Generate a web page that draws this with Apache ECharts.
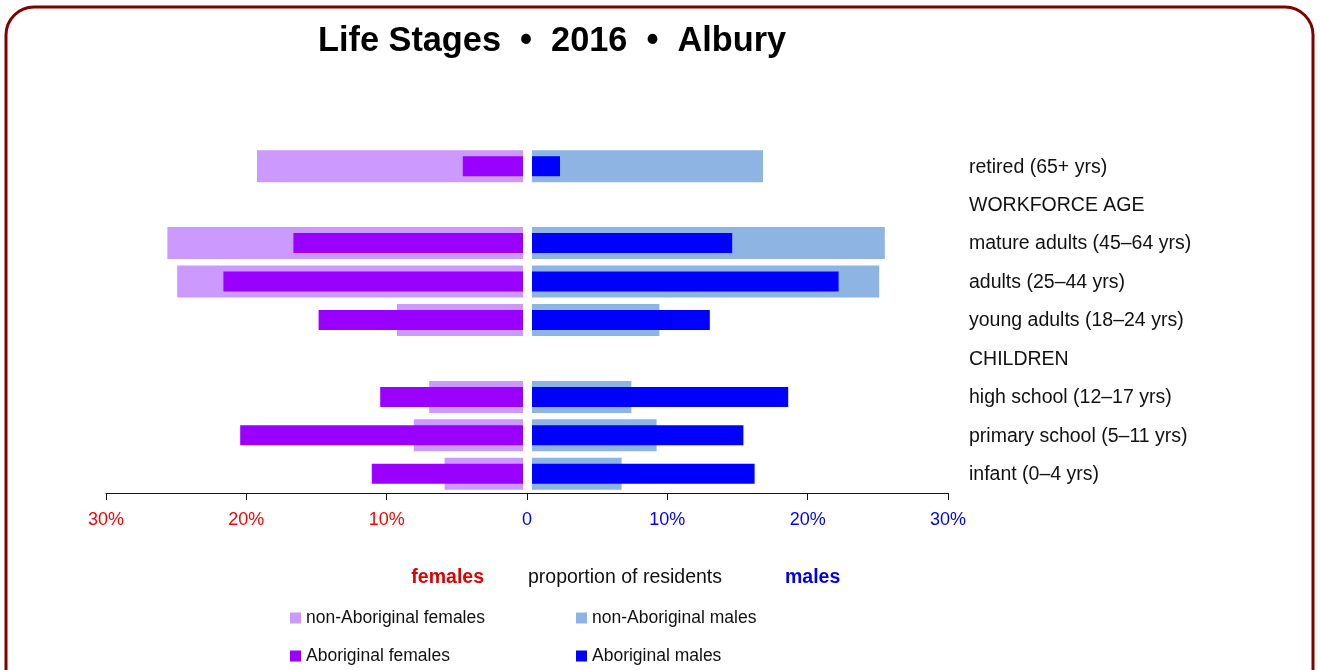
<!DOCTYPE html>
<html>
<head>
<meta charset="utf-8">
<title>Life Stages 2016 Albury</title>
<script src="https://cdn.jsdelivr.net/npm/echarts@6/dist/echarts.min.js"></script>
<style>
  html, body { margin: 0; padding: 0; background: #fff; }
  #chart { width: 1320px; height: 670px; }
</style>
</head>
<body>
<div id="chart"></div>
<script>
// top to bottom, as in the picture
var categories = ['retired (65+ yrs)', 'WORKFORCE AGE', 'mature adults (45–64 yrs)', 'adults (25–44 yrs)',
  'young adults (18–24 yrs)', 'CHILDREN', 'high school (12–17 yrs)', 'primary school (5–11 yrs)', 'infant (0–4 yrs)']
// percent of residents, header rows have no bars
var nonAbFemales = [19.0, null, 25.4, 24.7, 9.0, null, 6.7, 7.8, 5.6]
var abFemales = [4.3, null, 16.4, 21.4, 14.6, null, 10.2, 20.2, 10.8]
var nonAbMales = [16.5, null, 25.2, 24.8, 9.1, null, 7.1, 8.9, 6.4]
var abMales = [2.0, null, 14.3, 21.9, 12.7, null, 18.3, 15.1, 15.9]
var axisMax = 30
var tickStep = 10

var FONT = "'Liberation Sans', Arial, sans-serif"
var plotTop = 147
var plotHeight = 346

var myChart = echarts.init(document.getElementById('chart'), null, { renderer: 'canvas' })

function catAxis(gridIndex, show, position) {
  return {
    type: 'category',
    gridIndex: gridIndex,
    data: categories,
    inverse: true,
    position: position,
    show: show,
    axisLine: { show: false },
    axisTick: { show: false },
    axisLabel: {
      show: show,
      align: 'left',
      margin: 17,
      lineHeight: 26,
      verticalAlign: 'top',
      padding: [-12, 0, 0, 0],
      color: '#111',
      fontSize: 19.5,
      fontFamily: FONT,
    },
  }
}

var options = {
  animation: false,
  backgroundColor: '#fff',
  title: {
    text: 'Life Stages  •  2016  •  Albury',
    left: 318,
    top: 25,
    padding: 0,
    textStyle: { fontSize: 34.3, fontWeight: 'bold', color: '#000', fontFamily: FONT },
  },
  grid: [
    // axis with the tick marks
    { left: 106, top: plotTop, width: 842, height: plotHeight },
    // females, bars grow to the left
    { left: 103, top: plotTop, width: 420, height: plotHeight },
    // males
    { left: 532, top: plotTop, width: 420, height: plotHeight },
  ],
  xAxis: [
    {
      type: 'value',
      gridIndex: 0,
      min: -axisMax,
      max: axisMax,
      interval: tickStep,
      splitLine: { show: false },
      axisLine: { show: true, lineStyle: { color: '#111', width: 1 } },
      axisTick: { show: true, length: 7, lineStyle: { color: '#111' } },
      axisLabel: {
        margin: 18,
        formatter: function (v) {
          if (v < 0) return '{f|' + -v + '%}'
          if (v === 0) return '{m|0}'
          return '{m|' + v + '%}'
        },
        rich: {
          f: { color: '#FF0000', fontSize: 18, fontFamily: FONT },
          m: { color: '#0000FF', fontSize: 18, fontFamily: FONT },
        },
      },
    },
    { type: 'value', gridIndex: 1, min: 0, max: axisMax, inverse: true, show: false, splitLine: { show: false } },
    { type: 'value', gridIndex: 2, min: 0, max: axisMax, show: false, splitLine: { show: false } },
  ],
  yAxis: [
    catAxis(0, false, 'left'),
    catAxis(1, false, 'left'),
    catAxis(1, false, 'right'),
    catAxis(2, true, 'right'),
    catAxis(2, false, 'left'),
  ],
  legend: [
    { data: ['non-Aboriginal females'], left: 290, top: 609 },
    { data: ['non-Aboriginal males'], left: 576, top: 609 },
    { data: ['Aboriginal females'], left: 290, top: 647 },
    { data: ['Aboriginal males'], left: 576, top: 647 },
  ].map(function (l) {
    l.padding = 0
    l.selectedMode = false
    l.icon = 'rect'
    l.itemWidth = 11
    l.itemHeight = 11
    l.textStyle = { fontSize: 17.5, color: '#111', fontFamily: FONT }
    return l
  }),
  series: [
    {
      name: 'non-Aboriginal females',
      type: 'bar',
      xAxisIndex: 1,
      yAxisIndex: 1,
      barWidth: 32,
      z: 2,
      itemStyle: { color: '#CC99FF' },
      data: nonAbFemales,
    },
    {
      name: 'Aboriginal females',
      type: 'bar',
      xAxisIndex: 1,
      yAxisIndex: 2,
      barWidth: 20,
      z: 3,
      itemStyle: { color: '#9900FF' },
      data: abFemales,
    },
    {
      name: 'non-Aboriginal males',
      type: 'bar',
      xAxisIndex: 2,
      yAxisIndex: 3,
      barWidth: 32,
      z: 2,
      itemStyle: { color: '#8EB4E3' },
      data: nonAbMales,
    },
    {
      name: 'Aboriginal males',
      type: 'bar',
      xAxisIndex: 2,
      yAxisIndex: 4,
      barWidth: 20,
      z: 3,
      itemStyle: { color: '#0000FF' },
      data: abMales,
    },
  ],
  graphic: [
    {
      type: 'rect',
      z: 0,
      shape: { x: 6, y: 7, width: 1307, height: 720, r: 28 },
      style: { fill: 'transparent', stroke: '#800000', lineWidth: 3 },
    },
    {
      type: 'text',
      style: { text: 'females', x: 484, y: 578, align: 'right', verticalAlign: 'middle',
        font: 'bold 19.5px ' + FONT, fill: '#E00000' },
    },
    {
      type: 'text',
      style: { text: 'proportion of residents', x: 528, y: 578, align: 'left', verticalAlign: 'middle',
        font: '19.5px ' + FONT, fill: '#111' },
    },
    {
      type: 'text',
      style: { text: 'males', x: 785, y: 578, align: 'left', verticalAlign: 'middle',
        font: 'bold 19.5px ' + FONT, fill: '#0000EE' },
    },
  ],
}
myChart.setOption(options)
</script>
</body>
</html>
